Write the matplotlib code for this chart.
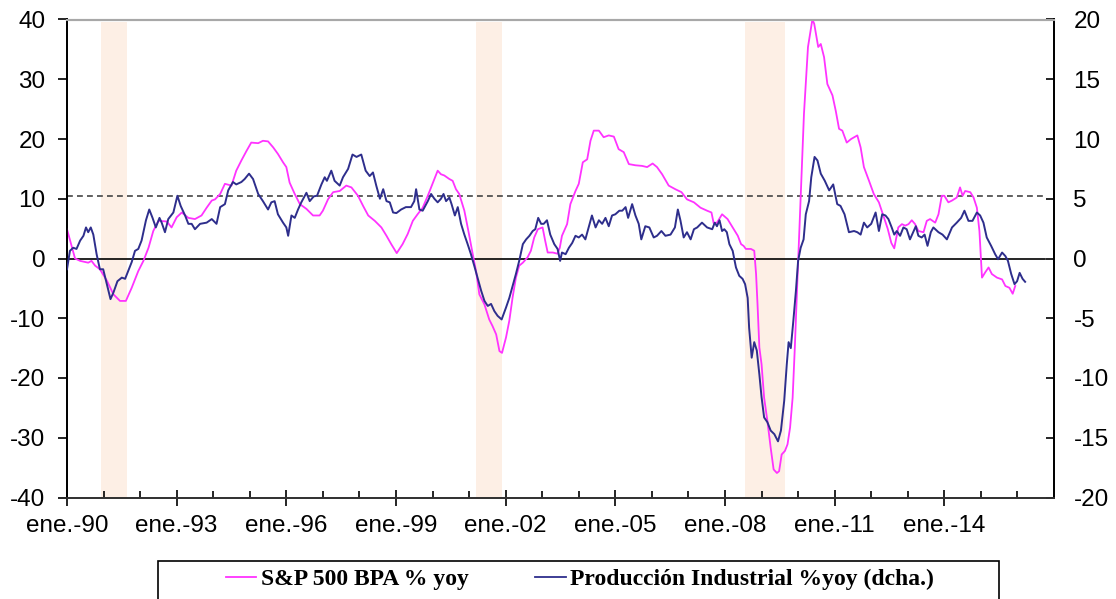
import matplotlib
matplotlib.use("Agg")
import matplotlib.pyplot as plt
from matplotlib.lines import Line2D
from matplotlib.patches import Rectangle

plt.rcParams["axes.unicode_minus"] = False

# ---------------- data (decimal years, % yoy) ----------------
sp_dates = [1990.00, 1990.22, 1990.36, 1990.58, 1990.67, 1990.77, 1990.90, 1991.09, 1991.27, 1991.45,
            1991.61, 1991.77, 1991.95, 1992.09, 1992.23, 1992.36, 1992.50, 1992.73, 1992.86, 1993.00,
            1993.14, 1993.32, 1993.50, 1993.68, 1993.82, 1993.96, 1994.05, 1994.19, 1994.32, 1994.50,
            1994.63, 1994.77, 1994.91, 1995.04, 1995.23, 1995.36, 1995.50, 1995.64, 1995.77, 1995.91,
            1996.00, 1996.09, 1996.23, 1996.37, 1996.55, 1996.73, 1996.91, 1997.00, 1997.14, 1997.28,
            1997.46, 1997.64, 1997.78, 1997.96, 1998.10, 1998.24, 1998.42, 1998.60, 1998.74, 1998.87,
            1999.02, 1999.18, 1999.32, 1999.46, 1999.59, 1999.73, 1999.87, 2000.00, 2000.14, 2000.23,
            2000.32, 2000.46, 2000.55, 2000.64, 2000.73, 2000.87, 2000.98, 2001.10, 2001.19, 2001.28,
            2001.42, 2001.55, 2001.64, 2001.74, 2001.83, 2001.90, 2002.01, 2002.10, 2002.19, 2002.28,
            2002.37, 2002.47, 2002.60, 2002.69, 2002.78, 2002.88, 2003.01, 2003.08, 2003.15, 2003.29,
            2003.42, 2003.48, 2003.54, 2003.68, 2003.77, 2003.91, 2004.00, 2004.11, 2004.23, 2004.32,
            2004.41, 2004.55, 2004.68, 2004.82, 2004.96, 2005.09, 2005.23, 2005.37, 2005.55, 2005.73,
            2005.87, 2006.02, 2006.14, 2006.28, 2006.46, 2006.64, 2006.81, 2006.96, 2007.15, 2007.33,
            2007.51, 2007.63, 2007.69, 2007.78, 2007.92, 2008.07, 2008.21, 2008.35, 2008.44, 2008.51,
            2008.57, 2008.71, 2008.80, 2008.85, 2008.89, 2008.94, 2009.00, 2009.07, 2009.16, 2009.25,
            2009.33, 2009.42, 2009.48, 2009.55, 2009.64, 2009.71, 2009.78, 2009.85, 2009.91, 2009.98,
            2010.07, 2010.16, 2010.27, 2010.39, 2010.44, 2010.55, 2010.62, 2010.71, 2010.80, 2010.94,
            2011.03, 2011.12, 2011.21, 2011.33, 2011.45, 2011.62, 2011.71, 2011.80, 2011.94, 2012.07,
            2012.21, 2012.33, 2012.45, 2012.55, 2012.63, 2012.74, 2012.84, 2012.93, 2013.02, 2013.11,
            2013.20, 2013.29, 2013.43, 2013.52, 2013.61, 2013.75, 2013.84, 2013.93, 2014.00, 2014.11,
            2014.21, 2014.34, 2014.43, 2014.50, 2014.57, 2014.71, 2014.80, 2014.89, 2014.96, 2015.03,
            2015.12, 2015.21, 2015.30, 2015.44, 2015.58, 2015.67, 2015.78, 2015.87, 2015.94]
sp_yoy = [4.9, 0.0, -0.4, -0.7, -0.4, -1.2, -1.8, -3.7, -6.0, -7.1,
          -7.1, -4.9, -2.1, -0.4, 1.8, 4.6, 6.3, 6.2, 5.2, 6.9,
          7.7, 6.8, 6.6, 7.2, 8.5, 9.7, 9.9, 10.8, 12.5, 12.2,
          14.7, 16.4, 18.0, 19.4, 19.3, 19.7, 19.6, 18.6, 17.5, 16.1,
          15.3, 12.7, 10.8, 9.1, 8.3, 7.2, 7.2, 8.0, 9.9, 11.1,
          11.3, 12.2, 11.9, 10.5, 8.8, 7.2, 6.3, 5.2, 3.8, 2.4,
          0.9, 2.4, 4.1, 6.3, 7.4, 8.5, 10.5, 12.5, 14.7, 14.1,
          13.9, 13.3, 13.0, 11.6, 10.8, 8.0, 4.6, 0.7, -2.1, -6.0,
          -7.7, -10.2, -11.3, -12.7, -15.5, -15.8, -13.2, -10.4, -6.5, -3.2,
          -1.2, -0.7, 0.2, 1.3, 3.5, 4.9, 5.2, 3.0, 1.0, 1.0,
          0.8, 1.8, 3.8, 5.75, 9.1, 11.3, 12.5, 16.1, 16.6, 19.7,
          21.4, 21.4, 20.3, 20.6, 20.4, 18.3, 17.8, 15.8, 15.6, 15.5,
          15.3, 15.9, 15.3, 14.1, 12.2, 11.6, 11.1, 9.9, 9.4, 8.5,
          8.0, 7.7, 5.9, 6.0, 7.4, 6.6, 5.2, 3.8, 2.4, 2.1,
          1.6, 1.6, 1.3, -2.6, -7.7, -14.9, -17.7, -23.3, -27.2, -31.7,
          -35.3, -35.9, -35.6, -32.8, -32.2, -31.1, -28.3, -23.3, -14.9, -3.7,
          10.2, 24.2, 35.4, 40.0, 39.3, 35.4, 35.9, 33.7, 29.2, 27.3,
          24.7, 21.7, 21.4, 19.4, 20.0, 20.6, 18.6, 15.3, 13.0, 10.8,
          9.4, 7.2, 5.0, 2.6, 1.7, 5.2, 5.75, 5.5, 5.75, 6.4,
          5.75, 4.6, 4.4, 6.3, 6.6, 6.0, 7.4, 10.5, 10.5, 9.4,
          9.7, 10.2, 11.9, 10.5, 11.3, 11.1, 10.2, 8.5, 4.6, -3.2,
          -2.3, -1.5, -2.6, -3.2, -3.5, -4.6, -4.9, -5.9, -4.6]

ip_dates = [1990.00, 1990.08, 1990.17, 1990.26, 1990.36, 1990.45, 1990.52, 1990.58, 1990.65, 1990.72,
            1990.81, 1990.90, 1990.99, 1991.09, 1991.19, 1991.27, 1991.38, 1991.50, 1991.59, 1991.68,
            1991.77, 1991.86, 1991.95, 1992.04, 1992.16, 1992.25, 1992.34, 1992.43, 1992.53, 1992.59,
            1992.68, 1992.77, 1992.91, 1993.02, 1993.11, 1993.23, 1993.32, 1993.41, 1993.50, 1993.64,
            1993.82, 1993.96, 1994.09, 1994.19, 1994.32, 1994.41, 1994.54, 1994.63, 1994.77, 1994.86,
            1994.98, 1995.09, 1995.23, 1995.36, 1995.50, 1995.59, 1995.68, 1995.77, 1995.91, 1996.00,
            1996.05, 1996.14, 1996.23, 1996.32, 1996.41, 1996.55, 1996.64, 1996.75, 1996.84, 1996.96,
            1997.05, 1997.11, 1997.23, 1997.32, 1997.46, 1997.55, 1997.69, 1997.81, 1997.92, 1998.05,
            1998.17, 1998.28, 1998.37, 1998.46, 1998.56, 1998.65, 1998.74, 1998.83, 1998.92, 1999.01,
            1999.14, 1999.27, 1999.41, 1999.50, 1999.55, 1999.64, 1999.73, 1999.87, 1999.96, 2000.05,
            2000.14, 2000.23, 2000.30, 2000.37, 2000.46, 2000.52, 2000.61, 2000.69, 2000.78, 2000.87,
            2000.96, 2001.05, 2001.14, 2001.23, 2001.33, 2001.42, 2001.51, 2001.60, 2001.69, 2001.78,
            2001.89, 2002.01, 2002.10, 2002.19, 2002.28, 2002.37, 2002.47, 2002.56, 2002.65, 2002.74,
            2002.81, 2002.89, 2002.97, 2003.04, 2003.13, 2003.22, 2003.33, 2003.42, 2003.49, 2003.54,
            2003.64, 2003.73, 2003.82, 2003.91, 2004.00, 2004.09, 2004.18, 2004.27, 2004.36, 2004.46,
            2004.55, 2004.64, 2004.73, 2004.82, 2004.91, 2005.00, 2005.11, 2005.19, 2005.28, 2005.35,
            2005.46, 2005.55, 2005.64, 2005.71, 2005.82, 2005.93, 2006.05, 2006.14, 2006.26, 2006.37,
            2006.51, 2006.63, 2006.71, 2006.78, 2006.87, 2006.96, 2007.06, 2007.15, 2007.24, 2007.37,
            2007.51, 2007.65, 2007.72, 2007.78, 2007.85, 2007.92, 2007.98, 2008.05, 2008.12, 2008.21,
            2008.30, 2008.39, 2008.48, 2008.55, 2008.62, 2008.66, 2008.73, 2008.80, 2008.87, 2008.94,
            2009.00, 2009.07, 2009.16, 2009.25, 2009.35, 2009.45, 2009.53, 2009.62, 2009.69, 2009.74,
            2009.80, 2009.87, 2009.94, 2010.00, 2010.07, 2010.15, 2010.21, 2010.30, 2010.36, 2010.45,
            2010.53, 2010.62, 2010.73, 2010.85, 2010.96, 2011.07, 2011.16, 2011.27, 2011.39, 2011.53,
            2011.62, 2011.71, 2011.80, 2011.89, 2012.00, 2012.12, 2012.21, 2012.30, 2012.39, 2012.47,
            2012.56, 2012.63, 2012.70, 2012.79, 2012.88, 2012.97, 2013.06, 2013.16, 2013.22, 2013.29,
            2013.38, 2013.46, 2013.54, 2013.63, 2013.70, 2013.84, 2013.95, 2014.07, 2014.21, 2014.34,
            2014.46, 2014.55, 2014.66, 2014.77, 2014.89, 2014.98, 2015.07, 2015.16, 2015.28, 2015.39,
            2015.47, 2015.58, 2015.67, 2015.74, 2015.83, 2015.92, 2015.99, 2016.06, 2016.14, 2016.21]
ip_yoy = [-0.9, 0.64, 0.9, 0.8, 1.5, 1.9, 2.6, 2.2, 2.6, 2.0,
          0.36, -0.9, -0.9, -2.15, -3.4, -2.85, -1.9, -1.6, -1.7, -1.0,
          -0.3, 0.64, 0.8, 1.5, 3.2, 4.1, 3.4, 2.6, 3.4, 3.0,
          2.2, 3.3, 3.85, 5.25, 4.4, 3.6, 2.9, 2.9, 2.45, 2.9,
          3.0, 3.3, 2.9, 4.3, 4.55, 5.7, 6.4, 6.2, 6.4, 6.65,
          7.1, 6.65, 5.4, 4.8, 4.1, 4.7, 4.8, 3.7, 3.0, 2.6,
          1.9, 3.6, 3.4, 4.1, 4.7, 5.5, 4.8, 5.2, 5.25, 6.2,
          6.8, 6.5, 7.35, 6.5, 6.1, 6.8, 7.5, 8.7, 8.5, 8.7,
          7.35, 6.9, 7.2, 6.1, 5.0, 5.8, 4.8, 4.7, 3.85, 3.8,
          4.1, 4.3, 4.3, 4.8, 5.8, 4.1, 4.0, 4.8, 5.4, 5.0,
          4.7, 5.0, 5.4, 4.8, 5.1, 4.55, 3.6, 4.3, 2.9, 2.0,
          1.2, 0.36, -0.6, -1.6, -2.7, -3.55, -3.97, -3.8, -4.4, -4.8,
          -5.1, -4.1, -3.3, -2.3, -1.3, -0.2, 1.2, 1.6, 1.9, 2.3,
          2.45, 3.4, 2.9, 2.9, 3.2, 2.0, 1.2, 0.8, -0.2, 0.5,
          0.36, 0.9, 1.3, 1.9, 1.76, 2.0, 1.6, 2.6, 3.6, 2.6,
          3.2, 2.9, 3.4, 2.7, 3.6, 3.7, 4.0, 4.0, 4.3, 3.4,
          4.55, 3.6, 2.9, 1.6, 2.7, 2.6, 1.76, 1.9, 2.3, 1.9,
          2.0, 2.6, 4.1, 3.2, 1.76, 2.2, 1.6, 2.45, 2.6, 3.0,
          2.6, 2.45, 3.0, 2.7, 3.2, 2.3, 2.45, 2.2, 1.2, 0.64,
          -0.75, -1.45, -1.7, -2.15, -3.3, -5.8, -8.3, -7.0, -7.7, -9.7,
          -11.6, -13.3, -13.7, -14.4, -14.7, -15.3, -14.4, -11.9, -8.85, -7.0,
          -7.5, -5.2, -2.7, -0.2, 0.9, 1.6, 3.7, 4.8, 6.8, 8.5,
          8.2, 7.1, 6.5, 5.7, 6.2, 4.55, 4.4, 3.7, 2.2, 2.3,
          2.2, 2.0, 3.0, 2.6, 2.9, 3.85, 2.3, 3.7, 3.6, 3.3,
          2.6, 2.0, 2.3, 1.9, 2.6, 2.45, 1.6, 2.3, 2.7, 1.9,
          1.76, 2.0, 1.06, 2.2, 2.6, 2.2, 2.0, 1.6, 2.6, 3.0,
          3.4, 4.0, 3.15, 3.15, 3.85, 3.6, 3.0, 1.76, 1.06, 0.36,
          -0.06, 0.5, 0.2, -0.2, -1.3, -2.15, -1.9, -1.2, -1.7, -1.95]

recession_start = [1990.93, 2001.19, 2008.55]
recession_end = [1991.64, 2001.89, 2009.64]
sp_average = 10.5

major_years = [1990, 1993, 1996, 1999, 2002, 2005, 2008, 2011, 2014]
major_labels = ["ene.-90", "ene.-93", "ene.-96", "ene.-99", "ene.-02",
                "ene.-05", "ene.-08", "ene.-11", "ene.-14"]
minor_years = list(range(1990, 2017))

sp_label = "S&P 500 BPA % yoy"
ip_label = "Producción Industrial %yoy (dcha.)"

# ---------------- style ----------------
MAGENTA = "#FF33FF"
NAVY = "#2E2E8C"
BAND = "#FDEFE5"
TICK_FAMILY = "Liberation Sans"
TICK_SIZE = 17.5

W, H = 1116, 599
fig = plt.figure(figsize=(W / 100, H / 100), dpi=100)
ax = fig.add_axes([67 / W, 1 - 497.5 / H, (1054 - 67) / W, (497.5 - 19.5) / H])
ax2 = ax.twinx()

for s, e in zip(recession_start, recession_end):
    ax.axvspan(s, e, ymax=0.995, color=BAND, lw=0, zorder=0)

ax.axhline(0, xmax=0.991, color="black", lw=1.2, zorder=1)
ax.axhline(sp_average, xmax=0.991, color="#444444", lw=1.2, ls=(0, (3.5, 2.5)), zorder=1)

ax.plot(sp_dates, sp_yoy, color=MAGENTA, lw=1.3, zorder=3)
ax2.plot(ip_dates, ip_yoy, color=NAVY, lw=1.4, zorder=3)

ax.set_xlim(1990, 2017)
ax.set_ylim(-40, 40)
ax2.set_ylim(-20, 20)

ax.set_yticks(range(-40, 41, 10))
ax2.set_yticks(range(-20, 21, 5))
ax.set_xticks(major_years)
ax.set_xticklabels(major_labels)
ax.set_xticks(minor_years, minor=True)

for lab in ax.get_yticklabels() + ax2.get_yticklabels() + ax.get_xticklabels():
    lab.set_fontfamily(TICK_FAMILY)
    lab.set_fontsize(TICK_SIZE)

ax.tick_params(axis="y", direction="out", length=6.5, width=1.2, pad=9, colors="black")
ax2.tick_params(axis="y", direction="in", length=6, width=1.2, pad=14, colors="black")
ax.tick_params(axis="x", which="major", direction="inout", length=11, width=1.2, pad=7)
ax.tick_params(axis="x", which="minor", direction="in", length=5, width=1.2)

for a in (ax, ax2):
    a.spines["top"].set_color("#A8A8A8")
    a.spines["top"].set_linewidth(1.5)
    a.spines["left"].set_linewidth(1.3)
    a.spines["right"].set_linewidth(1.3)
    a.spines["bottom"].set_linewidth(1.3)
    a.spines["bottom"].set_color("#333333")

# legend: box running off the bottom edge, entries centred in it
fig.patches.append(Rectangle((158 / W, 1 - 615 / H), (999 - 158) / W, (615 - 561) / H,
                             transform=fig.transFigure, facecolor="white",
                             edgecolor="black", lw=1.2, zorder=5))
handles = [Line2D([], [], color=MAGENTA, lw=1.3), Line2D([], [], color=NAVY, lw=1.3)]
leg = fig.legend(handles, [sp_label, ip_label], loc="center", ncol=2,
                 bbox_to_anchor=(580 / W, 1 - 579 / H),
                 prop=dict(family="Liberation Serif", weight="bold", size=17),
                 frameon=False, handlelength=1.3, handletextpad=0.2,
                 columnspacing=2.8, borderpad=0, borderaxespad=0)
leg.set_zorder(6)

fig.savefig("out.png", dpi=100)
